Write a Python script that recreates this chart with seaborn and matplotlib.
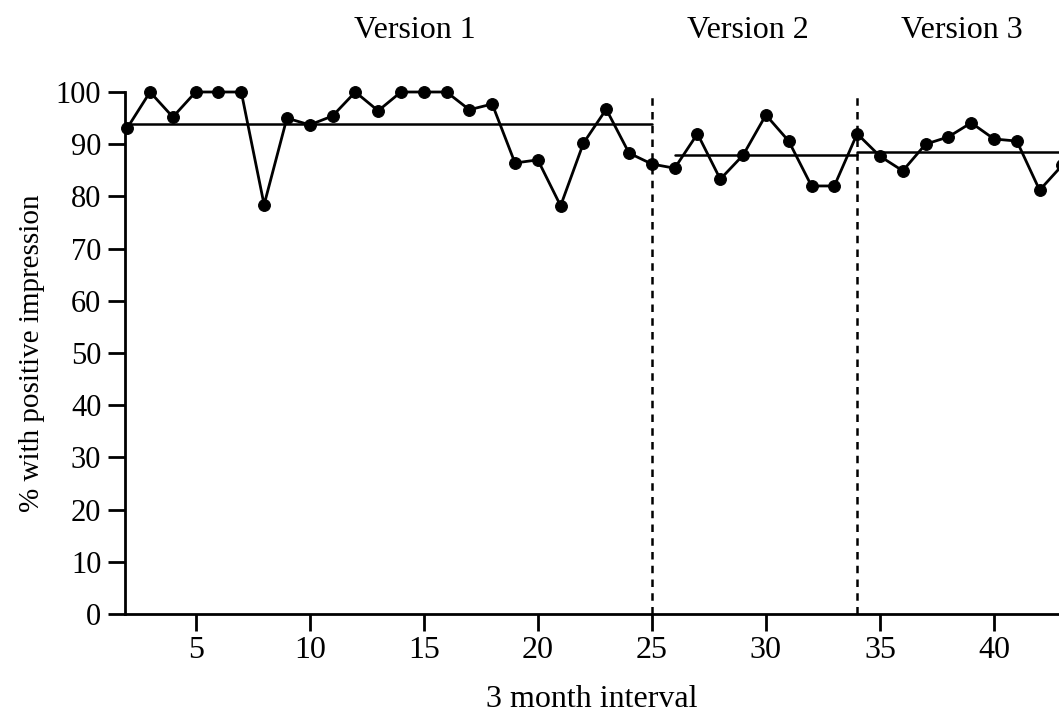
import matplotlib
matplotlib.use("Agg")
import matplotlib.pyplot as plt
import seaborn as sns
import pandas as pd

intervals = list(range(2, 44))
pct_positive = [93.1, 100, 95.2, 100, 100, 100, 78.4, 95.0, 93.7, 95.4,
                100, 96.4, 100, 100, 100, 96.6, 97.7, 86.4, 87.0, 78.2,
                90.2, 96.7, 88.3, 86.2, 85.4, 92.0, 83.3, 87.9, 95.6, 90.6,
                82.0, 82.0, 92.0, 87.7, 84.9, 90.0, 91.4, 94.1, 91.0, 90.6,
                81.2, 86.0]

version_names = ["Version 1", "Version 2", "Version 3"]
version_starts = [2, 26, 34]
version_ends = [25, 34, 44]
version_means = [93.9, 87.9, 88.5]
version_label_x = [14.6, 29.2, 38.6]
change_points = [25, 34]

sns.set_theme(style="ticks")
plt.rcParams['font.family'] = ['Liberation Serif', 'DejaVu Serif']
plt.rcParams['text.color'] = 'black'
plt.rcParams['axes.labelcolor'] = 'black'

fig = plt.figure(figsize=(10.59, 7.21), dpi=100)
ax = fig.add_axes([0.118, 0.1484, 0.882, 0.724])

df = pd.DataFrame({"interval": intervals, "pct": pct_positive})
sns.lineplot(data=df, x="interval", y="pct", ax=ax, color="black",
             linewidth=2.0, marker="o", markersize=8.5, markeredgecolor="black",
             clip_on=False, zorder=3)

for s, e, m in zip(version_starts, version_ends, version_means):
    ax.plot([s, e], [m, m], color="black", linewidth=1.8, clip_on=False, zorder=2)

for c in change_points:
    ax.plot([c, c], [0, 100], color="black", linewidth=1.8,
            linestyle=(0, (3.0, 2.5)), zorder=2, clip_on=False)

for name, lx in zip(version_names, version_label_x):
    ax.text(lx, 111.8, name, ha="center", va="center", fontsize=23, color="black")

ax.set_xlim(1.9, 42.85)
ax.set_ylim(0, 100)
ax.set_xticks([5, 10, 15, 20, 25, 30, 35, 40])
ax.set_yticks(list(range(0, 101, 10)))
ax.tick_params(axis="both", length=12, width=2, direction="out",
               color="black", labelcolor="black")
ax.tick_params(axis="x", labelsize=23, pad=4)
ax.tick_params(axis="y", labelsize=22, pad=5)
ax.set_xlabel("3 month interval", fontsize=23, labelpad=14)
ax.set_ylabel("% with positive impression", fontsize=21, labelpad=8)
for sp in ["top", "right"]:
    ax.spines[sp].set_visible(False)
for sp in ["left", "bottom"]:
    ax.spines[sp].set_linewidth(2)
    ax.spines[sp].set_color("black")

fig.savefig("out.png", dpi=100)
